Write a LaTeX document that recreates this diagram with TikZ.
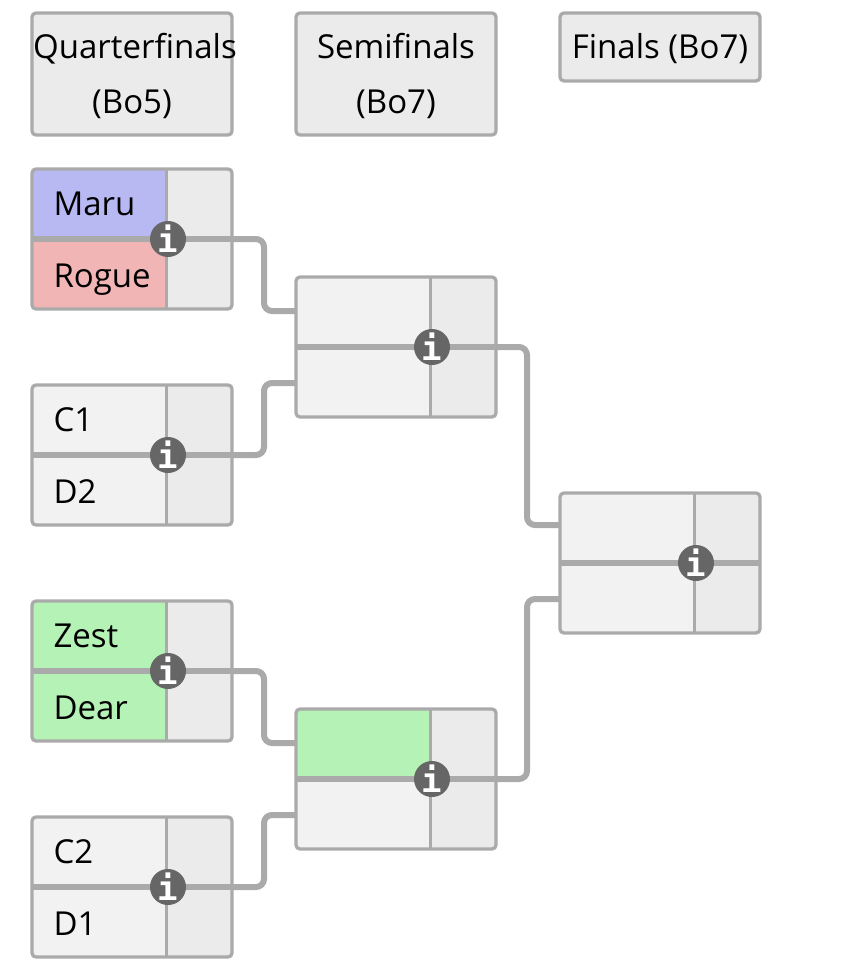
\documentclass[tikz,border=0pt]{standalone}
\usepackage{fontspec}
\usetikzlibrary{backgrounds}
\setmainfont{Open Sans}
\newfontfamily\iconfont{DejaVu Sans Mono}
\definecolor{edgegray}{HTML}{AAAAAA}
\definecolor{cellgray}{HTML}{F2F2F2}
\definecolor{sidegray}{HTML}{EBEBEB}
\definecolor{infogray}{HTML}{666666}
\definecolor{bluecell}{HTML}{B8B8F2}
\definecolor{redcell}{HTML}{F2B5B5}
\definecolor{greencell}{HTML}{B5F2B5}
\tikzset{
  header/.style={draw=edgegray,fill=sidegray,line width=3.3pt,rounded corners=4pt,minimum width=200pt,inner sep=0pt,outer sep=0pt},
  matchframe/.style={draw=edgegray,line width=3.3pt,rounded corners=4pt,minimum width=200pt,minimum height=140pt,inner sep=0pt,outer sep=0pt},
  midline/.style={draw=edgegray,line width=6pt},
  divider/.style={draw=edgegray,line width=3pt},
  conn/.style={draw=edgegray,line width=6pt,rounded corners=8pt},
  infonode/.style={circle,fill=infogray,text=white,minimum size=36pt,inner sep=0pt,outer sep=0pt,font=\iconfont\fontsize{34}{34}\selectfont\bfseries},
  playername/.style={anchor=base west,inner sep=0pt,outer sep=0pt,font=\fontsize{33}{38}\selectfont,text=black},
  headtext/.style={anchor=base,inner sep=0pt,outer sep=0pt,font=\fontsize{33}{38}\selectfont,text=black}
}
% id, left x, top y, top cell colour, bottom cell colour
\newcommand{\matchcell}[5]{%
  \begin{scope}
    \clip[rounded corners=4pt] (#2,#3) rectangle ++(200,140);
    \fill[cellgray] (#2,#3) rectangle ++(134.5,140);
    \fill[sidegray] (#2+134.5,#3) rectangle ++(65.5,140);
    \fill[#4] (#2,#3) rectangle ++(134.5,70);
    \fill[#5] (#2,#3+70) rectangle ++(134.5,70);
  \end{scope}
  \draw[divider] (#2+134.5,#3) -- ++(0,140);
  \draw[midline] (#2,#3+70) -- ++(200,0);
  \node[matchframe] (#1) at (#2+100,#3+70) {};
  \node[infonode] (#1i) at (#2+136,#3+70) {i};
}
\begin{document}
\begin{tikzpicture}[x=1pt,y=-1pt]
\useasboundingbox (0,0) rectangle (856,960);
% headers
\node[header,minimum height=122pt] (h1) at (132,74) {};
\node[header,minimum height=122pt] (h2) at (396,74) {};
\node[header,minimum height=68pt] (h3) at (660,47) {};
\node[headtext] (h1a) at (135,59) {Quarterfinals};
\node[headtext] (h1b) at (132,114) {(Bo5)};
\node[headtext] (h2a) at (396,59) {Semifinals};
\node[headtext] (h2b) at (396,114) {(Bo7)};
\node[headtext] (h3a) at (660,59) {Finals (Bo7)};
% anchors for connectors
\coordinate (sf1a) at (296,311);
\coordinate (sf1b) at (296,383);
\coordinate (sf2a) at (296,743);
\coordinate (sf2b) at (296,815);
\coordinate (fa) at (560,525);
\coordinate (fb) at (560,599);
\coordinate (busa) at (264,0);
\coordinate (busb) at (527,0);
% matches
\matchcell{qf1}{32}{169}{bluecell}{redcell}
\matchcell{qf2}{32}{385}{cellgray}{cellgray}
\matchcell{qf3}{32}{601}{greencell}{greencell}
\matchcell{qf4}{32}{817}{cellgray}{cellgray}
\matchcell{sf1}{296}{277}{cellgray}{cellgray}
\matchcell{sf2}{296}{709}{greencell}{cellgray}
\matchcell{fin}{560}{493}{cellgray}{cellgray}
% connectors
\begin{scope}[on background layer]
\draw[conn] (qf1i) -- (qf1i -| busa) -- (sf1a -| busa) -- (sf1a);
\draw[conn] (qf2i) -- (qf2i -| busa) -- (sf1b -| busa) -- (sf1b);
\draw[conn] (qf3i) -- (qf3i -| busa) -- (sf2a -| busa) -- (sf2a);
\draw[conn] (qf4i) -- (qf4i -| busa) -- (sf2b -| busa) -- (sf2b);
\draw[conn] (sf1i) -- (sf1i -| busb) -- (fa -| busb) -- (fa);
\draw[conn] (sf2i) -- (sf2i -| busb) -- (fb -| busb) -- (fb);
\end{scope}
% names
\node[playername] (n1) at (53.5,215) {Maru};
\node[playername] (n2) at (53.5,287) {Rogue};
\node[playername] (n3) at (53.5,431) {C1};
\node[playername] (n4) at (53.5,503) {D2};
\node[playername] (n5) at (53.5,647) {Zest};
\node[playername] (n6) at (53.5,719) {Dear};
\node[playername] (n7) at (53.5,863) {C2};
\node[playername] (n8) at (53.5,935) {D1};
\end{tikzpicture}
\end{document}
